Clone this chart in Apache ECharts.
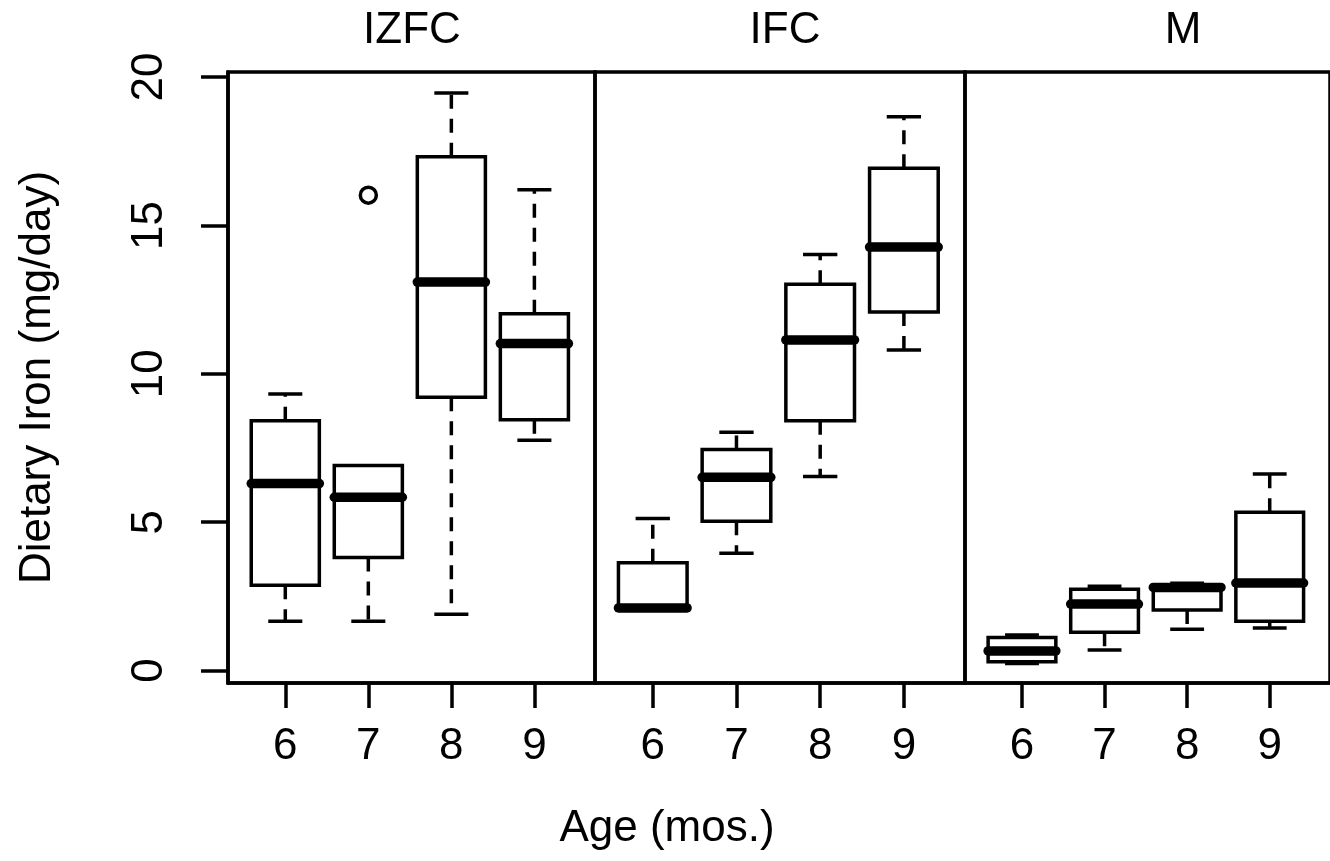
<!DOCTYPE html>
<html>
<head>
<meta charset="utf-8">
<script src="https://cdn.jsdelivr.net/npm/echarts@6/dist/echarts.min.js"></script>
<style>
  html, body { margin: 0; padding: 0; background: #fff; }
  #main { width: 1330px; height: 861px; }
</style>
</head>
<body>
<div id="main"></div>
<script>
// age groups (x categories) and panel names
var ages = ['6', '7', '8', '9'];
var panels = ['IZFC', 'IFC', 'M'];

// box stats per age: [low whisker, Q1, median, Q3, high whisker]
var izfc = [
  [1.66, 2.87, 6.30, 8.42, 9.32],
  [1.66, 3.81, 5.84, 6.91, 6.91],
  [1.90, 9.21, 13.09, 17.31, 19.46],
  [7.76, 8.45, 11.02, 12.02, 16.20]
];
var ifc = [
  [2.11, 2.11, 2.11, 3.63, 5.12],
  [3.95, 5.03, 6.51, 7.45, 8.03],
  [6.54, 8.42, 11.14, 13.02, 14.02],
  [10.80, 12.08, 14.27, 16.93, 18.66]
];
var mGroup = [
  [0.24, 0.30, 0.66, 1.11, 1.20],
  [0.69, 1.29, 2.24, 2.74, 2.84],
  [1.39, 2.04, 2.80, 2.88, 2.94],
  [1.43, 1.66, 2.95, 5.33, 6.62]
];
// outliers: [age index (1-based), value] for IZFC
var izfcOutliers = [[2, 16.02]];

var yTicks = [0, 5, 10, 15, 20];
var xTicks = [1, 2, 3, 4];

var FONT = 'Liberation Sans, Arial, Helvetica, sans-serif';
var FS = 44;

var myChart = echarts.init(document.getElementById('main'));

function boxData(stats) {
  var out = [];
  for (var i = 0; i < stats.length; i++) {
    out.push([i + 1].concat(stats[i]));
  }
  return out;
}

function renderBox(params, api) {
  var x = api.value(0);
  var lo = api.coord([x, api.value(1)]);
  var q1 = api.coord([x, api.value(2)]);
  var med = api.coord([x, api.value(3)]);
  var q3 = api.coord([x, api.value(4)]);
  var hi = api.coord([x, api.value(5)]);
  var w = api.size([0.82, 0])[0];
  var cx = lo[0];
  var line = { stroke: '#000', lineWidth: 3.5 };
  var dash = { stroke: '#000', lineWidth: 3.5, lineDash: [14, 10] };
  var kids = [];
  if (hi[1] < q3[1] - 1) {
    kids.push({ type: 'line', shape: { x1: cx, y1: q3[1], x2: cx, y2: hi[1] }, style: dash });
    kids.push({ type: 'line', shape: { x1: cx - w / 4, y1: hi[1], x2: cx + w / 4, y2: hi[1] }, style: line });
  }
  if (lo[1] > q1[1] + 1) {
    kids.push({ type: 'line', shape: { x1: cx, y1: q1[1], x2: cx, y2: lo[1] }, style: dash });
    kids.push({ type: 'line', shape: { x1: cx - w / 4, y1: lo[1], x2: cx + w / 4, y2: lo[1] }, style: line });
  }
  kids.push({
    type: 'rect',
    shape: { x: cx - w / 2, y: q3[1], width: w, height: q1[1] - q3[1] },
    style: { fill: 'none', stroke: '#000', lineWidth: 3.5 }
  });
  kids.push({
    type: 'line',
    shape: { x1: cx - w / 2, y1: med[1], x2: cx + w / 2, y2: med[1] },
    style: { stroke: '#000', lineWidth: 9.5, lineCap: 'round' }
  });
  return { type: 'group', children: kids };
}

var grids = [
  { left: 228, top: 72, width: 367, height: 611 },
  { left: 595, top: 72, width: 370, height: 611 },
  { left: 965, top: 72, width: 370, height: 611 }
];
var titleX = [407, 780, 1178];
var groups = [izfc, ifc, mGroup];

var option = {
  backgroundColor: '#fff',
  animation: false,
  title: [],
  grid: [],
  xAxis: [],
  yAxis: [],
  series: []
};

for (var p = 0; p < 3; p++) {
  option.grid.push({
    left: grids[p].left, top: grids[p].top, width: grids[p].width, height: grids[p].height,
    show: true, borderColor: '#000', borderWidth: 3.5, backgroundColor: 'transparent'
  });
  option.title.push({
    text: panels[p],
    left: titleX[p],
    top: 4,
    textAlign: 'center',
    textStyle: { fontFamily: FONT, fontSize: FS, fontWeight: 'normal', color: '#000' }
  });
  option.xAxis.push({
    type: 'value', gridIndex: p, min: 0.31, max: 4.73,
    splitLine: { show: false },
    axisLine: { show: true, onZero: false, lineStyle: { color: '#000', width: 3.5 } },
    axisTick: { show: true, customValues: xTicks, length: 25, lineStyle: { color: '#000', width: 3.5 } },
    axisLabel: {
      show: true, customValues: xTicks, margin: 42, color: '#000',
      fontFamily: FONT, fontSize: FS,
      formatter: function (v) { return ages[Math.round(v) - 1]; }
    }
  });
  option.yAxis.push({
    type: 'value', gridIndex: p, min: -0.42, max: 20.17,
    show: p == 0,
    splitLine: { show: false },
    axisLine: { show: true, lineStyle: { color: '#000', width: 3.5 } },
    axisTick: { show: true, customValues: yTicks, length: 27, lineStyle: { color: '#000', width: 3.5 } },
    axisLabel: {
      show: true, customValues: yTicks, rotate: 90, margin: 56, color: '#000',
      fontFamily: FONT, fontSize: FS
    },
    name: p == 0 ? 'Dietary Iron (mg/day)' : '',
    nameLocation: 'middle', nameGap: 168, nameRotate: 90,
    nameTextStyle: { fontFamily: FONT, fontSize: FS, color: '#000' }
  });
  option.series.push({
    type: 'custom', xAxisIndex: p, yAxisIndex: p,
    renderItem: renderBox,
    encode: { x: 0, y: [1, 2, 3, 4, 5] },
    data: boxData(groups[p]),
    clip: false
  });
}

option.series.push({
  type: 'scatter', xAxisIndex: 0, yAxisIndex: 0,
  symbol: 'circle', symbolSize: 16,
  itemStyle: { color: '#fff', borderColor: '#000', borderWidth: 3.5, opacity: 1 },
  data: izfcOutliers
});

option.title.push({
  text: 'Age (mos.)',
  left: 662, top: 802, textAlign: 'center',
  textStyle: { fontFamily: FONT, fontSize: FS, fontWeight: 'normal', color: '#000' }
});

myChart.setOption(option);
</script>
</body>
</html>
